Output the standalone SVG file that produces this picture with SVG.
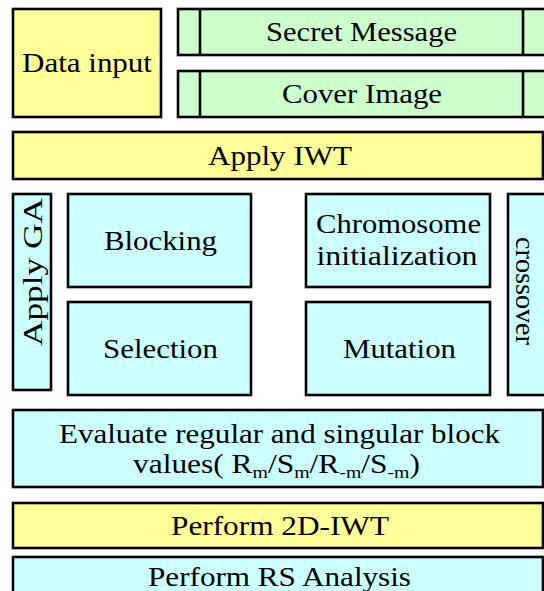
<svg xmlns="http://www.w3.org/2000/svg" width="544" height="591" viewBox="0 0 544 591">
<style>
rect{stroke:#000;stroke-width:2.6}
.y{fill:#FFFF99}
.g{fill:#CCFFCC}
.c{fill:#CCFFFF}
line{stroke:#000;stroke-width:2.6}
text{font-family:"Times New Roman","Liberation Serif",serif;font-size:27px;fill:#000;text-anchor:middle}
.sub{font-size:17px}
</style>
<rect x="0" y="0" width="544" height="591" fill="#fff" style="stroke:none"/>
<g id="data-input"><rect class="y" x="13" y="9" width="148" height="108"/><text x="87" y="72" textLength="130" lengthAdjust="spacingAndGlyphs">Data input</text></g>
<g id="secret-message"><rect class="g" x="178" y="9" width="380" height="46"/><line x1="200" y1="9" x2="200" y2="55"/><line x1="523" y1="9" x2="523" y2="55"/><text x="361.5" y="41" textLength="191" lengthAdjust="spacingAndGlyphs">Secret Message</text></g>
<g id="cover-image"><rect class="g" x="178" y="71" width="380" height="46"/><line x1="200" y1="71" x2="200" y2="117"/><line x1="523" y1="71" x2="523" y2="117"/><text x="362" y="103" textLength="160" lengthAdjust="spacingAndGlyphs">Cover Image</text></g>
<g id="apply-iwt"><rect class="y" x="13" y="132" width="530" height="47"/><text x="280" y="165" textLength="144" lengthAdjust="spacingAndGlyphs">Apply IWT</text></g>
<g id="apply-ga"><rect class="c" x="13" y="194" width="38" height="196"/><text transform="translate(42,272) rotate(-90)" x="0" y="0" textLength="148" lengthAdjust="spacingAndGlyphs">Apply GA</text></g>
<g id="blocking"><rect class="c" x="68" y="194" width="183" height="93"/><text x="160.5" y="250" textLength="113" lengthAdjust="spacingAndGlyphs">Blocking</text></g>
<g id="selection"><rect class="c" x="68" y="302" width="183" height="93"/><text x="160.5" y="358" textLength="115" lengthAdjust="spacingAndGlyphs">Selection</text></g>
<g id="chromosome-init"><rect class="c" x="306" y="194" width="184" height="93"/><text x="398.5" y="233" textLength="165" lengthAdjust="spacingAndGlyphs">Chromosome</text><text x="397" y="265" textLength="161" lengthAdjust="spacingAndGlyphs">initialization</text></g>
<g id="mutation"><rect class="c" x="306" y="302" width="184" height="93"/><text x="399.5" y="358" textLength="113" lengthAdjust="spacingAndGlyphs">Mutation</text></g>
<g id="crossover"><rect class="c" x="508" y="194" width="60" height="201"/><text transform="translate(516,291) rotate(90)" x="0" y="0" textLength="108" lengthAdjust="spacingAndGlyphs">crossover</text></g>
<g id="evaluate"><rect class="c" x="13" y="410" width="530" height="77"/><text x="279.5" y="443" textLength="441" lengthAdjust="spacingAndGlyphs">Evaluate regular and singular block</text><text x="276.5" y="473" textLength="287" lengthAdjust="spacingAndGlyphs">values( R<tspan class="sub" dy="5">m</tspan><tspan dy="-5">/S</tspan><tspan class="sub" dy="5">m</tspan><tspan dy="-5">/R</tspan><tspan class="sub" dy="5">-m</tspan><tspan dy="-5">/S</tspan><tspan class="sub" dy="5">-m</tspan><tspan dy="-5">)</tspan></text></g>
<g id="perform-2d-iwt"><rect class="y" x="13" y="503" width="530" height="45"/><text x="280" y="535" textLength="218" lengthAdjust="spacingAndGlyphs">Perform 2D-IWT</text></g>
<g id="perform-rs"><rect class="c" x="13" y="557" width="530" height="50"/><text x="279.5" y="586" textLength="263" lengthAdjust="spacingAndGlyphs">Perform RS Analysis</text></g>
<g id="connectors"></g>
</svg>
